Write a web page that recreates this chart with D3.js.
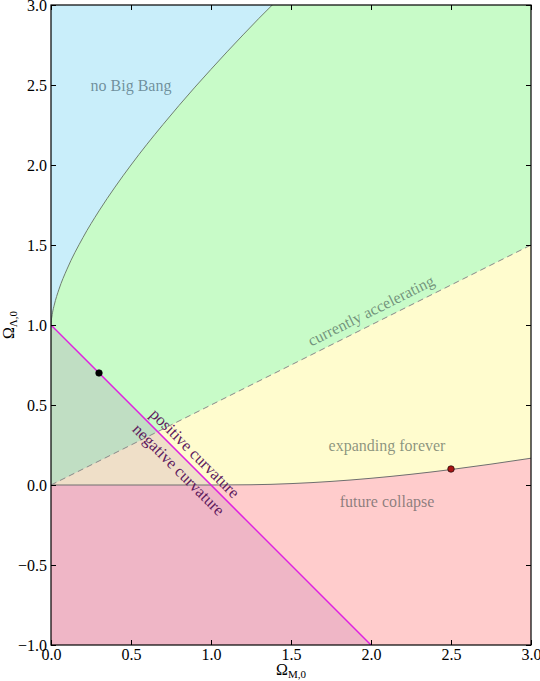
<!DOCTYPE html>
<html lang="en">
<head>
  <meta charset="UTF-8"/>
  <title>Omega_M vs Omega_Lambda</title>
  <script src="https://d3js.org/d3.v7.min.js"></script>
  <style>
    body { margin:0; background:#fff; }
    svg { display:block; font-family:"Liberation Serif","DejaVu Serif",serif; }
    .tick text { font-family:"Liberation Serif",serif; font-size:16px; fill:#000; }
    .tick line { stroke:#000; stroke-width:1; }
    .lbl { font-size:16px; fill:#2a3a3a; fill-opacity:0.55; }
    .curv { font-size:16.5px; fill:#5e1a5e; }
  </style>
</head>
<body>
  <svg width="540" height="681"></svg>
  <script>
    // boundary of the "no Big Bang" region
    const nbbM = [0, 0.002, 0.005, 0.01, 0.02, 0.05, 0.1, 0.2, 0.3, 0.4, 0.5, 0.6, 0.7, 0.8, 0.9, 1.0, 1.1, 1.2, 1.3, 1.383];
    const nbbL = [1.0, 1.029, 1.049, 1.08, 1.124, 1.224, 1.349, 1.547, 1.713, 1.862, 2.0, 2.13, 2.253, 2.372, 2.487, 2.598, 2.707, 2.813, 2.917, 3.0];
    // boundary between expanding forever / future collapse
    const recM = [0, 1.0, 1.25, 1.5, 1.75, 2.0, 2.25, 2.5, 2.75, 3.0];
    const recL = [0, 0, 0.0015, 0.0087, 0.0223, 0.0419, 0.0668, 0.0965, 0.1304, 0.1673];
    // deceleration = 0 line and flat universe line
    const accM = [0, 3], accL = [0, 1.5];
    const flatM = [0, 2], flatL = [1, -1];
    // marked models
    const dotsM = [0.3, 2.5], dotsL = [0.7, 0.1], dotsC = ['#000', '#a81414'];
    const xTicks = [0, 0.5, 1, 1.5, 2, 2.5, 3];
    const yTicks = [-1, -0.5, 0, 0.5, 1, 1.5, 2, 2.5, 3];

    const svg = d3.select('svg');
    const x = d3.scaleLinear().domain([0, 3]).range([51, 531]);
    const y = d3.scaleLinear().domain([-1, 3]).range([645, 5]);

    const pts = (ms, ls) => ms.map((m, i) => [m, ls[i]]);
    const line = d3.line().x(d => x(d[0])).y(d => y(d[1]));
    const curve = d3.line().x(d => x(d[0])).y(d => y(d[1])).curve(d3.curveMonotoneX);

    svg.append('defs').append('clipPath').attr('id', 'clip')
      .append('rect').attr('x', x(0)).attr('y', y(3))
      .attr('width', x(3) - x(0)).attr('height', y(-1) - y(3));

    const g = svg.append('g').attr('clip-path', 'url(#clip)');
    const nbb = pts(nbbM, nbbL), rec = pts(recM, recL), acc = pts(accM, accL);

    // future collapse (whole background)
    g.append('rect').attr('x', x(0)).attr('y', y(3))
      .attr('width', x(3) - x(0)).attr('height', y(-1) - y(3)).attr('fill', '#ffcccc');
    // expanding forever
    g.append('path').attr('fill', '#fffcce')
      .attr('d', line([[0, 3], [3, 3]].concat(rec.slice().reverse())));
    // currently accelerating
    g.append('path').attr('fill', '#c8fbc8')
      .attr('d', line([[0, 3], [3, 3], acc[1], acc[0]]));
    // no Big Bang
    g.append('path').attr('fill', '#c9eefa')
      .attr('d', curve(nbb) + 'L' + x(0) + ',' + y(3) + 'Z');
    // negative curvature tint
    g.append('path').attr('fill', 'rgb(150,60,170)').attr('fill-opacity', 0.15)
      .attr('d', line([[flatM[0], flatL[0]], [flatM[1], flatL[1]], [0, -1]]) + 'Z');

    // boundaries
    g.append('path').attr('d', curve(nbb)).attr('fill', 'none')
      .attr('stroke', '#6f7f6f').attr('stroke-width', 1);
    g.append('path').attr('d', curve(rec)).attr('fill', 'none')
      .attr('stroke', '#6f6f6f').attr('stroke-width', 1);
    g.append('path').attr('d', line(acc)).attr('fill', 'none')
      .attr('stroke', '#8a8a8a').attr('stroke-width', 1).attr('stroke-dasharray', '6,4');
    g.append('path').attr('d', line(pts(flatM, flatL))).attr('fill', 'none')
      .attr('stroke', '#e020e0').attr('stroke-width', 1.5);

    g.selectAll('circle.m').data(d3.range(dotsM.length)).join('circle')
      .attr('class', 'm')
      .attr('cx', i => x(dotsM[i])).attr('cy', i => y(dotsL[i]))
      .attr('r', 3.3).attr('fill', i => dotsC[i])
      .attr('stroke', '#000').attr('stroke-width', 0.6);

    // region labels
    const lbl = (t, m, l, rot) => svg.append('text').attr('class', 'lbl')
      .attr('text-anchor', 'middle').attr('dominant-baseline', 'central')
      .attr('transform', `translate(${x(m)},${y(l)}) rotate(${rot || 0})`).text(t);
    lbl('no Big Bang', 0.5, 2.5).style('fill', '#23404c');
    lbl('expanding forever', 2.1, 0.25);
    lbl('future collapse', 2.1, -0.1);
    const accAng = Math.atan2(y(accL[1]) - y(accL[0]), x(accM[1]) - x(accM[0])) * 180 / Math.PI;
    lbl('currently accelerating', 2.0, 1.09, accAng);

    // curvature labels along the flat line
    const fAng = Math.atan2(y(flatL[1]) - y(flatL[0]), x(flatM[1]) - x(flatM[0])) * 180 / Math.PI;
    const cm = 0.85, cl = 1 - cm;
    [['positive curvature', -11], ['negative curvature', 12]].forEach(([t, off]) => {
      svg.append('text').attr('class', 'curv')
        .attr('text-anchor', 'middle').attr('dominant-baseline', 'central')
        .attr('transform', `translate(${x(cm)},${y(cl)}) rotate(${fAng}) translate(0,${off})`)
        .text(t);
    });

    // axes, ticks inside
    const fmt = d3.format('.1f');
    const ax = svg.append('g');
    ax.append('g').attr('transform', `translate(0,${y(-1)})`)
      .call(d3.axisBottom(x).tickValues(xTicks).tickFormat(fmt).tickSizeInner(-5).tickSizeOuter(0).tickPadding(4));
    ax.append('g').attr('transform', `translate(${x(0)},0)`)
      .call(d3.axisLeft(y).tickValues(yTicks).tickFormat(fmt).tickSizeInner(-5).tickSizeOuter(0).tickPadding(4));
    ax.append('g').attr('transform', `translate(0,${y(3)})`)
      .call(d3.axisTop(x).tickValues(xTicks).tickFormat('').tickSizeInner(-5).tickSizeOuter(0));
    ax.append('g').attr('transform', `translate(${x(3)},0)`)
      .call(d3.axisRight(y).tickValues(yTicks).tickFormat('').tickSizeInner(-5).tickSizeOuter(0));
    ax.selectAll('.domain').remove();
    ax.selectAll('g').attr('font-family', null).attr('font-size', null);

    svg.append('rect').attr('x', x(0)).attr('y', y(3))
      .attr('width', x(3) - x(0)).attr('height', y(-1) - y(3))
      .attr('fill', 'none').attr('stroke', '#000').attr('stroke-width', 1.2);

    // axis titles
    const xt = svg.append('text').attr('x', x(1.5)).attr('y', 675)
      .attr('text-anchor', 'middle').attr('font-size', 16);
    xt.append('tspan').text('Ω');
    xt.append('tspan').attr('font-size', 11).attr('dy', 3).text('M,0');
    const yt = svg.append('text').attr('transform', `translate(14,${y(1)}) rotate(-90)`)
      .attr('text-anchor', 'middle').attr('font-size', 16);
    yt.append('tspan').text('Ω');
    yt.append('tspan').attr('font-size', 11).attr('dy', 3).text('Λ,0');
  </script>
</body>
</html>
